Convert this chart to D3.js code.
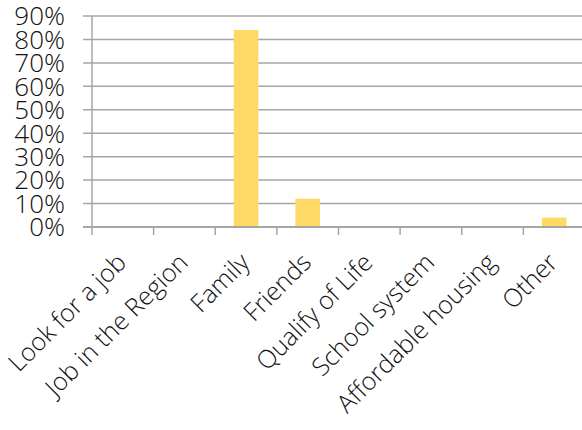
<!DOCTYPE html>
<html>
<head>
<meta charset="utf-8">
<script src="https://cdn.jsdelivr.net/npm/d3@7"></script>
<style>
  body { margin: 0; background: #fff; }
  svg { display: block; }
  text { font-family: "Open Sans", sans-serif; font-weight: 300; fill: #111; }
</style>
</head>
<body>
<div id="chart"></div>
<script>
// data
const categories = ["Look for a job", "Job in the Region", "Family", "Friends",
                    "Qualify of Life", "School system", "Affordable housing", "Other"];
const values = [0, 0, 0.84, 0.12, 0, 0, 0, 0.04];
const yTicks = [0, 0.1, 0.2, 0.3, 0.4, 0.5, 0.6, 0.7, 0.8, 0.9];

const width = 582, height = 430;
const margin = {top: 16, right: -3, bottom: 203, left: 92};
const innerW = width - margin.left - margin.right;
const innerH = height - margin.top - margin.bottom;

const svg = d3.select("#chart").append("svg")
    .attr("width", width)
    .attr("height", height);

const g = svg.append("g")
    .attr("transform", "translate(" + margin.left + "," + margin.top + ")");

const xScale = d3.scaleBand().domain(categories).range([0, innerW]).paddingInner(0.6).paddingOuter(0.3);
const xTickScale = d3.scaleLinear().domain([0, categories.length]).range([0, innerW]);
const yScale = d3.scaleLinear().domain([0, 0.9]).range([innerH, 0]);

// gridlines (extend left of axis like excel tick marks)
g.selectAll(".grid")
    .data(yTicks)
    .join("line")
    .attr("class", "grid")
    .attr("x1", -9)
    .attr("x2", innerW)
    .attr("y1", d => yScale(d))
    .attr("y2", d => yScale(d))
    .attr("stroke", "#a6a6a6")
    .attr("stroke-width", 1.5);

// y labels
g.selectAll(".ylab")
    .data(yTicks)
    .join("text")
    .attr("class", "ylab")
    .attr("x", -27)
    .attr("y", d => yScale(d))
    .attr("dy", "0.36em")
    .attr("text-anchor", "end")
    .style("font-size", "26px")
    .text(d => d3.format(".0%")(d));

// bars
g.selectAll(".bar")
    .data(values)
    .join("rect")
    .attr("class", "bar")
    .attr("x", (d, i) => xScale(categories[i]))
    .attr("width", xScale.bandwidth())
    .attr("y", d => yScale(d))
    .attr("height", d => innerH - yScale(d))
    .attr("fill", "#ffd966");

// y axis line
g.append("line")
    .attr("x1", 0).attr("x2", 0)
    .attr("y1", 0).attr("y2", innerH)
    .attr("stroke", "#a6a6a6")
    .attr("stroke-width", 1.5);

// x axis line + ticks between categories
g.append("line")
    .attr("x1", -9).attr("x2", innerW)
    .attr("y1", innerH).attr("y2", innerH)
    .attr("stroke", "#a6a6a6")
    .attr("stroke-width", 2);

g.selectAll(".xtick")
    .data(d3.range(categories.length))
    .join("line")
    .attr("class", "xtick")
    .attr("x1", d => xTickScale(d))
    .attr("x2", d => xTickScale(d))
    .attr("y1", innerH)
    .attr("y2", innerH + 8)
    .attr("stroke", "#a6a6a6")
    .attr("stroke-width", 1.5);

// rotated category labels
g.selectAll(".xlab")
    .data(categories)
    .join("text")
    .attr("class", "xlab")
    .attr("text-anchor", "end")
    .style("font-size", "25px")
    .attr("transform", d => "translate(" + (xScale(d) + xScale.bandwidth() / 2 + 5) + "," + (innerH + 37) + ") rotate(-45)")
    .text(d => d);
</script>
</body>
</html>
